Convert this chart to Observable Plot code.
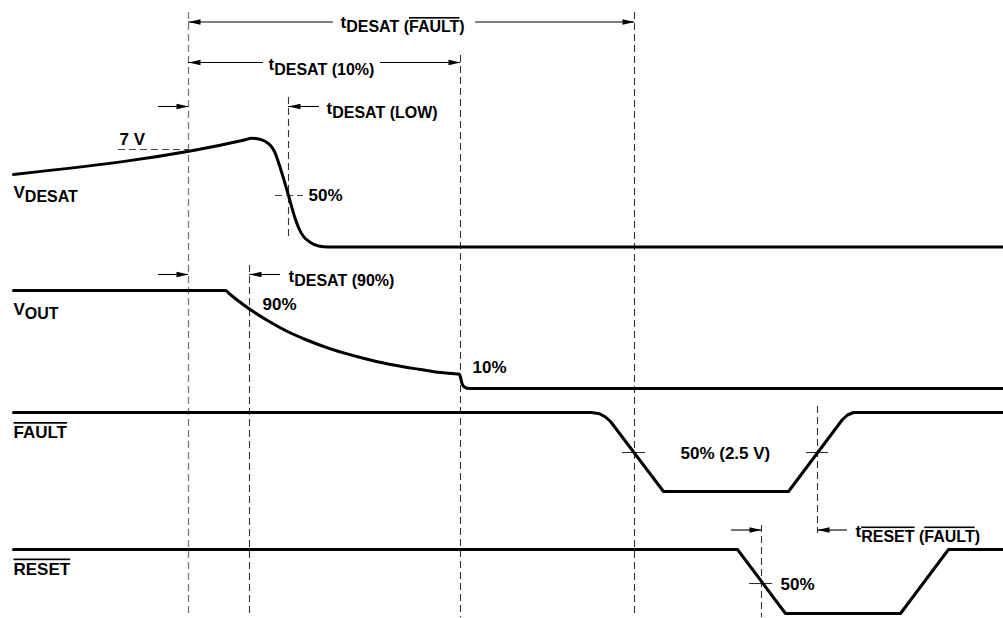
<!DOCTYPE html>
<html><head><meta charset="utf-8">
<script src="https://cdn.jsdelivr.net/npm/d3@7"></script>
<script src="https://cdn.jsdelivr.net/npm/@observablehq/plot@0.6"></script>
<style>body{margin:0;background:#fff} svg{display:block}</style>
</head><body><div id="chart"></div>
<script>
// Waveforms: [time, level] pairs
const vdesatPts = [[13,174],[245,139.2],[251,137.8],[257,138.2],[264,140.5],[270,145],[274,151],[278,162],[288,195],[294,216],[298,227],[303,236],[310,242],[318,245.5],[328,246.5],[1003,246.5]];
const voutPts = [[13,290],[225,290],[229,293.3],[237,299.8],[249,308.6],[267,320],[285,330],[305,339],[330,348.4],[360,357],[390,364],[420,369],[440,372],[459,373.8],[460.3,378],[461.5,383],[464,386.6],[469,388],[1003,388]];
const faultPts = [[13,412],[591,412],[599,413.2],[605,416.5],[610,421],[663,491],[788,491],[842,419],[847,414.5],[853,412],[1003,412]];
const resetPts = [[13,549],[737,549],[785,613],[900,613],[948,549],[1003,549]];

// Dashed time markers: [time, top, bottom, shade]
const markers = [[188,12,613,"light"],[249,265,617,"dark"],[288,97,240,"dark"],[460,55,617,"dark"],[634,12,613,"dark"],[761,525,617,"dark"],[817,406,533,"dark"]];
// Level reference dashes: [time1, time2, level]
const refDashes = [[118,188,149],[275,303,195]];
// 50% threshold ticks: [time1, time2, level]
const ticks = [[622,645,452],[806,828,452],[749,772,583]];
// Dimension lines: [time1, time2, level]
const dimLines = [[188,333,21.5],[475,634,21.5],[188,263,62],[380,460,62],[158,188,106],[288,319,106],[158,188,274],[249,280,274],[731,761,529.5],[817,847,529.5]];
// Arrowheads: [time, level, direction]
const heads = [[188,21.5,"left"],[634,21.5,"right"],[188,62,"left"],[460,62,"right"],[188,106,"right"],[288,106,"left"],[188,274,"right"],[249,274,"left"],[761,529.5,"right"],[817,529.5,"left"]];
// Labels: text before "|" is main, after is subscript; "~" pairs mark overline
const labelX = [340,268,326,288,855,13,13,13,13,119,308,262,472,680,780];
const labelY = [27,69.5,113,281,536.5,197,314,437.5,574,144,200,309,372,458,589];
const labelText = ["t|DESAT (~FAULT~)","t|DESAT (10%)","t|DESAT (LOW)","t|DESAT (90%)","t|~RESET~ (~FAULT~)","V|DESAT","V|OUT","~FAULT~","~RESET~","7 V","50%","90%","10%","50% (2.5 V)","50%"];

const toObj = a => a.map(([t, v]) => ({t, v}));
const labels = labelText.map((s, i) => ({t: labelX[i], v: labelY[i], s}));
const arrowHead = {draw(ctx) { ctx.moveTo(0, 0); ctx.lineTo(-12, -2.8); ctx.lineTo(-12, 2.8); ctx.closePath(); }};

const sig = {x: "t", y: "v", stroke: "black", strokeWidth: 3, strokeLinejoin: "round"};
const chart = Plot.plot({
  width: 1003, height: 618, margin: 0,
  x: {domain: [0, 1003], range: [0, 1003], axis: null},
  y: {domain: [0, 618], range: [0, 618], axis: null},
  style: {background: "white"},
  marks: [
    Plot.ruleX(markers.filter(d => d[3] === "light"), {x: d => d[0], y1: d => d[1], y2: d => d[2], stroke: "#7a7a7a", strokeWidth: 1.3, strokeDasharray: "7,4"}),
    Plot.ruleX(markers.filter(d => d[3] === "dark"), {x: d => d[0], y1: d => d[1], y2: d => d[2], stroke: "#333", strokeWidth: 1.1, strokeDasharray: "7,4"}),
    Plot.ruleY(refDashes, {x1: d => d[0], x2: d => d[1], y: d => d[2], stroke: "#444", strokeWidth: 1.1, strokeDasharray: "7,4"}),
    Plot.ruleY(ticks, {x1: d => d[0], x2: d => d[1], y: d => d[2], stroke: "#333", strokeWidth: 1.1}),
    Plot.ruleY(dimLines, {x1: d => d[0], x2: d => d[1], y: d => d[2], stroke: "black", strokeWidth: 1.1}),
    Plot.dot(heads, {x: d => d[0], y: d => d[1], rotate: d => d[2] === "left" ? 180 : 0, symbol: arrowHead, fill: "black", stroke: "none"}),
    Plot.line(toObj(vdesatPts), {...sig, curve: "monotone-x"}),
    Plot.line(toObj(voutPts), {...sig, curve: "monotone-x"}),
    Plot.line(toObj(faultPts), {...sig, curve: "linear"}),
    Plot.line(toObj(resetPts), {...sig, curve: "linear"}),
    Plot.text(labels, {x: "t", y: "v", text: "s", textAnchor: "start", lineAnchor: "bottom", fontSize: 17, fontWeight: "bold", fontFamily: "'Liberation Sans', Arial, sans-serif", fill: "black"})
  ]
});
document.getElementById("chart").appendChild(chart);

// rich text: subscripts and overlines as tspans
const NS = "http://www.w3.org/2000/svg";
function addParts(t, str, dy, isSub) {
  let first = true;
  str.split("~").forEach((p, i) => {
    if (!p) return;
    const ts = document.createElementNS(NS, "tspan");
    ts.textContent = p;
    if (isSub) ts.setAttribute("font-size", 16);
    if (first && dy) ts.setAttribute("dy", dy);
    first = false;
    if (i % 2 === 1) ts.style.textDecoration = "overline";
    t.appendChild(ts);
  });
}
chart.querySelectorAll("text").forEach(t => {
  const s = t.textContent;
  if (!s) return;
  t.textContent = "";
  const idx = s.indexOf("|");
  if (idx >= 0) { addParts(t, s.slice(0, idx), 0, false); addParts(t, s.slice(idx + 1), 4.5, true); }
  else addParts(t, s, 0, false);
});
</script></body></html>
